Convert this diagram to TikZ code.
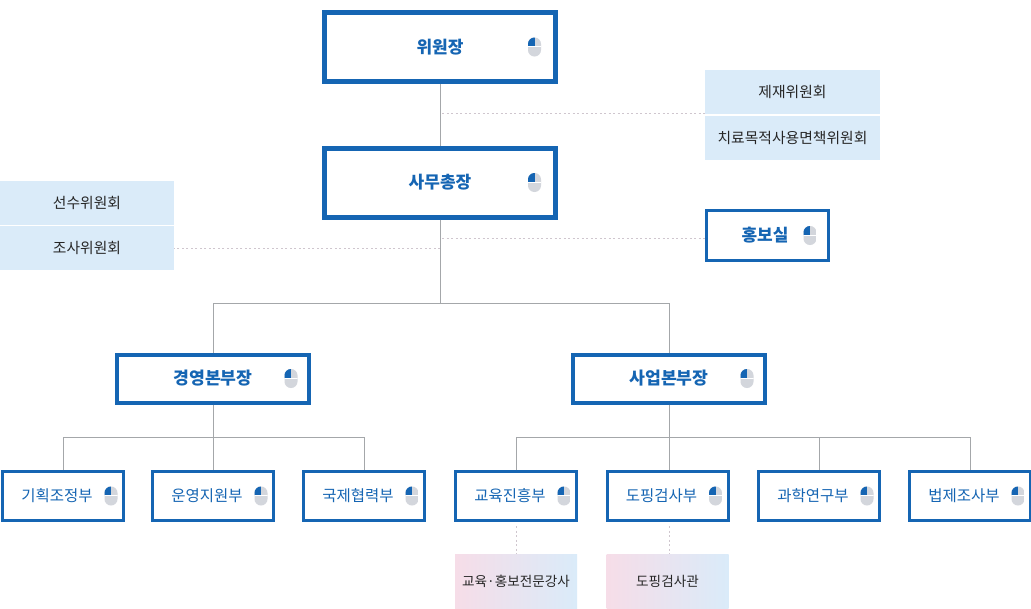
\documentclass[tikz,border=0pt]{standalone}
\usepackage{fontspec}
\setmainfont{Noto Sans CJK KR}
\usetikzlibrary{calc}

\definecolor{boxblue}{HTML}{1565B3}
\definecolor{panelblue}{HTML}{DAEBF9}
\definecolor{linegrey}{HTML}{A4A7AA}
\definecolor{dashgrey}{HTML}{CFC6CE}
\definecolor{mousegrey}{HTML}{D3D6DC}
\definecolor{panelpink}{HTML}{F6DDE8}

\tikzset{
	topbox/.style={draw=boxblue, fill=white, line width=5pt, minimum width=231pt, minimum height=69pt, inner sep=0pt, text=boxblue, font=\fontsize{17}{18}\selectfont\bfseries},
	midbox/.style={draw=boxblue, fill=white, line width=4pt, minimum width=192pt, minimum height=48pt, inner sep=0pt, text=boxblue, font=\fontsize{17.2}{18}\selectfont\bfseries},
	prbox/.style={draw=boxblue, fill=white, line width=3pt, minimum width=122pt, minimum height=50pt, inner sep=0pt, text=boxblue, font=\fontsize{17}{18}\selectfont\bfseries, execute at end node={\hspace{5pt}}},
	subbox/.style={draw=boxblue, fill=white, line width=3pt, minimum width=121pt, minimum height=49pt, inner sep=0pt, text=boxblue, font=\fontsize{15.5}{18}\selectfont, execute at end node={\hspace{12pt}}},
	panel/.style={fill=panelblue, minimum width=175pt, minimum height=44pt, inner sep=0pt, text=black!85, font=\fontsize{14.8}{18}\selectfont},
	tipbox/.style={left color=panelpink, right color=panelblue, minimum width=122pt, minimum height=54pt, inner sep=0pt, text=black!85, font=\fontsize{13.6}{18}\selectfont},
	orgline/.style={draw=linegrey, line width=1pt},
	dashline/.style={draw=dashgrey, line width=1pt, dash pattern=on 2pt off 2.5pt},
	mouse/.pic={
		\begin{scope}
			\clip[rounded corners=6.4pt] (-6.5,-9.5) rectangle (6.5,9.5);
			\fill[mousegrey] (-7,-10) rectangle (7,10);
			\fill[boxblue] (-7,-10) rectangle (0,-1);
			\fill[white] (-7,-1) rectangle (7,-0.2);
		\end{scope}
	}
}

\begin{document}
\begin{tikzpicture}[x=1pt,y=-1pt]
	\useasboundingbox (0,0) rectangle (1031,608);

	% top of the chart
	\node[topbox] (chair) at (440,47) {위원장};
	\node[topbox] (secretary) at (440,182.5) {사무총장};
	\node[panel] (sanction) at (792.5,91.5) {제재위원회};
	\node[panel] (medical) at (792.5,137.5) {치료목적사용면책위원회};
	\node[panel, minimum width=174pt] (athlete) at (87,203) {선수위원회};
	\node[panel, minimum width=174pt] (inquiry) at (87,248) {조사위원회};
	\node[prbox] (press) at (767.5,235.5) {홍보실};

	% two head offices
	\node[midbox] (manage) at (213,378.5) {경영본부장};
	\node[midbox] (business) at (669,378.5) {사업본부장};

	% departments
	\node[subbox] (plan) at (63,496) {기획조정부};
	\node[subbox] (support) at (213,496) {운영지원부};
	\node[subbox] (global) at (364,496) {국제협력부};
	\node[subbox] (edu) at (516,496) {교육진흥부};
	\node[subbox] (test) at (667.5,496) {도핑검사부};
	\node[subbox] (science) at (819,496) {과학연구부};
	\node[subbox] (law) at (970,496) {법제조사부};

	\node[tipbox] (lecturer) at (516,581) {교육·홍보전문강사};
	\node[tipbox] (officer) at (667.5,581) {도핑검사관};

	\coordinate (tapa) at (442,113);
	\coordinate (tapb) at (442,238);
	\coordinate (tapc) at (440,248);
	\coordinate (hub) at (440,303);
	\coordinate (huba) at (213,437);
	\coordinate (hubb) at (669,437);

	\draw[orgline] (chair.south) -- (secretary.north);
	\draw[orgline] (secretary.south) -- (hub);
	\draw[orgline] (manage.north) -- (manage.north |- hub) -- (business.north |- hub) -- (business.north);
	\draw[orgline] (manage.south) -- (support.north);
	\draw[orgline] (plan.north) -- (plan.north |- huba) -- (global.north |- huba) -- (global.north);
	\draw[orgline] (business.south) -- (hubb |- test.north);
	\draw[orgline] (edu.north) -- (edu.north |- hubb) -- (law.north |- hubb) -- (law.north);
	\draw[orgline] (science.north |- hubb) -- (science.north);

	\draw[dashline] (tapa) -- (tapa -| sanction.west);
	\draw[dashline] (tapb) -- (tapb -| press.west);
	\draw[dashline] (tapc) -- (inquiry.east);
	\draw[dashline] ($(edu.south)+(0,4)$) -- (lecturer.north);
	\draw[dashline] ($(hubb |- test.south)+(0,4)$) -- (hubb |- officer.north);

	% mouse marks
	\pic at ($(chair.east)+(-23.5,0)$) {mouse};
	\pic at ($(secretary.east)+(-23.5,0)$) {mouse};
	\pic at ($(press.east)+(-20,0)$) {mouse};
	\pic at ($(manage.east)+(-20,0)$) {mouse};
	\pic at ($(business.east)+(-20,0)$) {mouse};
	\pic at ($(plan.east)+(-14,0)$) {mouse};
	\pic at ($(support.east)+(-14,0)$) {mouse};
	\pic at ($(global.east)+(-14,0)$) {mouse};
	\pic at ($(edu.east)+(-14,0)$) {mouse};
	\pic at ($(test.east)+(-14,0)$) {mouse};
	\pic at ($(science.east)+(-14,0)$) {mouse};
	\pic at ($(law.east)+(-14,0)$) {mouse};
\end{tikzpicture}
\end{document}
